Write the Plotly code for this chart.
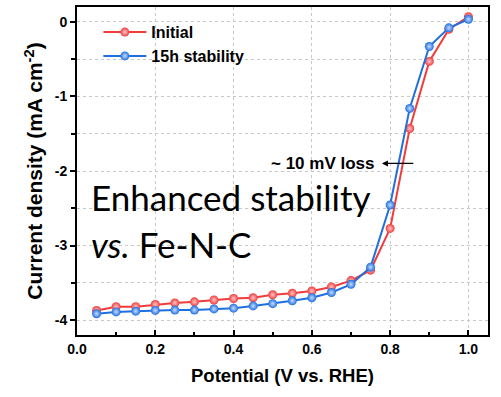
import plotly.graph_objects as go

potential = [0.05, 0.10, 0.15, 0.20, 0.25, 0.30, 0.35, 0.40, 0.45, 0.50,
             0.55, 0.60, 0.65, 0.70, 0.75, 0.80, 0.85, 0.90, 0.95, 1.00]
initial = [-3.87, -3.82, -3.82, -3.79, -3.77, -3.755, -3.73, -3.71, -3.70, -3.66,
           -3.64, -3.61, -3.555, -3.47, -3.33, -2.77, -1.43, -0.53, -0.10, 0.07]
stab15h = [-3.915, -3.89, -3.88, -3.87, -3.866, -3.866, -3.85, -3.84, -3.81, -3.78,
           -3.74, -3.70, -3.63, -3.52, -3.29, -2.456, -1.16, -0.33, -0.08, 0.035]
series_names = ["Initial", "15h stability"]
y_tickvals = [0, -1, -2, -3, -4]
y_ticktext = ["0", "-1", "-2", "-3", "-4"]

RED = "#F03C3C"
BLUE = "#1F6FE0"
FONT = "Liberation Sans"

fig = go.Figure()
for name, ys, col, light in [(series_names[0], initial, RED, "#FFC8C8"),
                             (series_names[1], stab15h, BLUE, "#C8DCFF")]:
    fig.add_trace(go.Scatter(
        x=potential, y=ys, name=name, mode="lines+markers",
        line=dict(color=col, width=2),
        marker=dict(size=9, color=col, gradient=dict(type="radial", color=light),
                    line=dict(width=0)),
    ))

grid = dict(gridcolor="#C8C8C8", griddash="dot", gridwidth=1)

fig.update_layout(
    width=501, height=397,
    margin=dict(l=77, r=13, t=5, b=62),
    plot_bgcolor="white", paper_bgcolor="white",
    font=dict(family=FONT, color="black"),
    showlegend=True,
    legend=dict(x=0.052, y=0.975, xanchor="left", yanchor="top",
                bgcolor="rgba(0,0,0,0)", font=dict(size=16, family=FONT, weight="bold"),
                tracegroupgap=0, itemwidth=43),
    xaxis=dict(range=[0, 1.05], tick0=0, dtick=0.2, tickformat=".1f",
               showline=True, linecolor="black", linewidth=2, mirror=True,
               ticks="inside", ticklen=5, tickwidth=1.5, tickcolor="black",
               showgrid=True, **grid, zeroline=False,
               minor=dict(dtick=0.1, ticks="inside", ticklen=3, tickcolor="black", showgrid=False),
               tickfont=dict(size=14, family=FONT, weight="bold"),
               title=dict(text="Potential (V vs. RHE)", font=dict(size=18.5, family=FONT, weight="bold"),
                          standoff=13)),
    yaxis=dict(range=[-4.2, 0.2], tickvals=y_tickvals, ticktext=y_ticktext,
               showline=True, linecolor="black", linewidth=2, mirror=True,
               ticks="outside", ticklen=5, tickwidth=1.5, tickcolor="black",
               showgrid=True, **grid, zeroline=False,
               minor=dict(dtick=0.5, ticks="outside", ticklen=4, tickcolor="black",
                          showgrid=True, **grid),
               tickfont=dict(size=14, family=FONT, weight="bold"),
               title=dict(text="Current density (mA cm<sup>-2</sup>)",
                          font=dict(size=21, family=FONT, weight="bold"), standoff=6)),
)

# loss arrow
fig.add_annotation(x=0.779, y=-1.898, ax=0.863, ay=-1.898, xref="x", yref="y",
                   axref="x", ayref="y", text="", showarrow=True,
                   arrowhead=2, arrowsize=1, arrowwidth=1.2, arrowcolor="black")
fig.add_annotation(x=0.765, y=-1.898, xref="x", yref="y", text="~ 10 mV loss",
                   showarrow=False, xanchor="right", yanchor="middle",
                   font=dict(size=17, family=FONT, weight="bold"))
fig.add_annotation(x=0.029, y=(335 - 196) / 330, xref="paper", yref="paper",
                   text="Enhanced stability", showarrow=False, xanchor="left", yanchor="middle",
                   font=dict(size=35, family="Lato", color="black"))
fig.add_annotation(x=0.029, y=(335 - 243) / 330, xref="paper", yref="paper",
                   text="<i>vs.</i> Fe-N-C", showarrow=False, xanchor="left", yanchor="middle",
                   font=dict(size=35, family="Lato", color="black"))

fig.write_html("out.html")
